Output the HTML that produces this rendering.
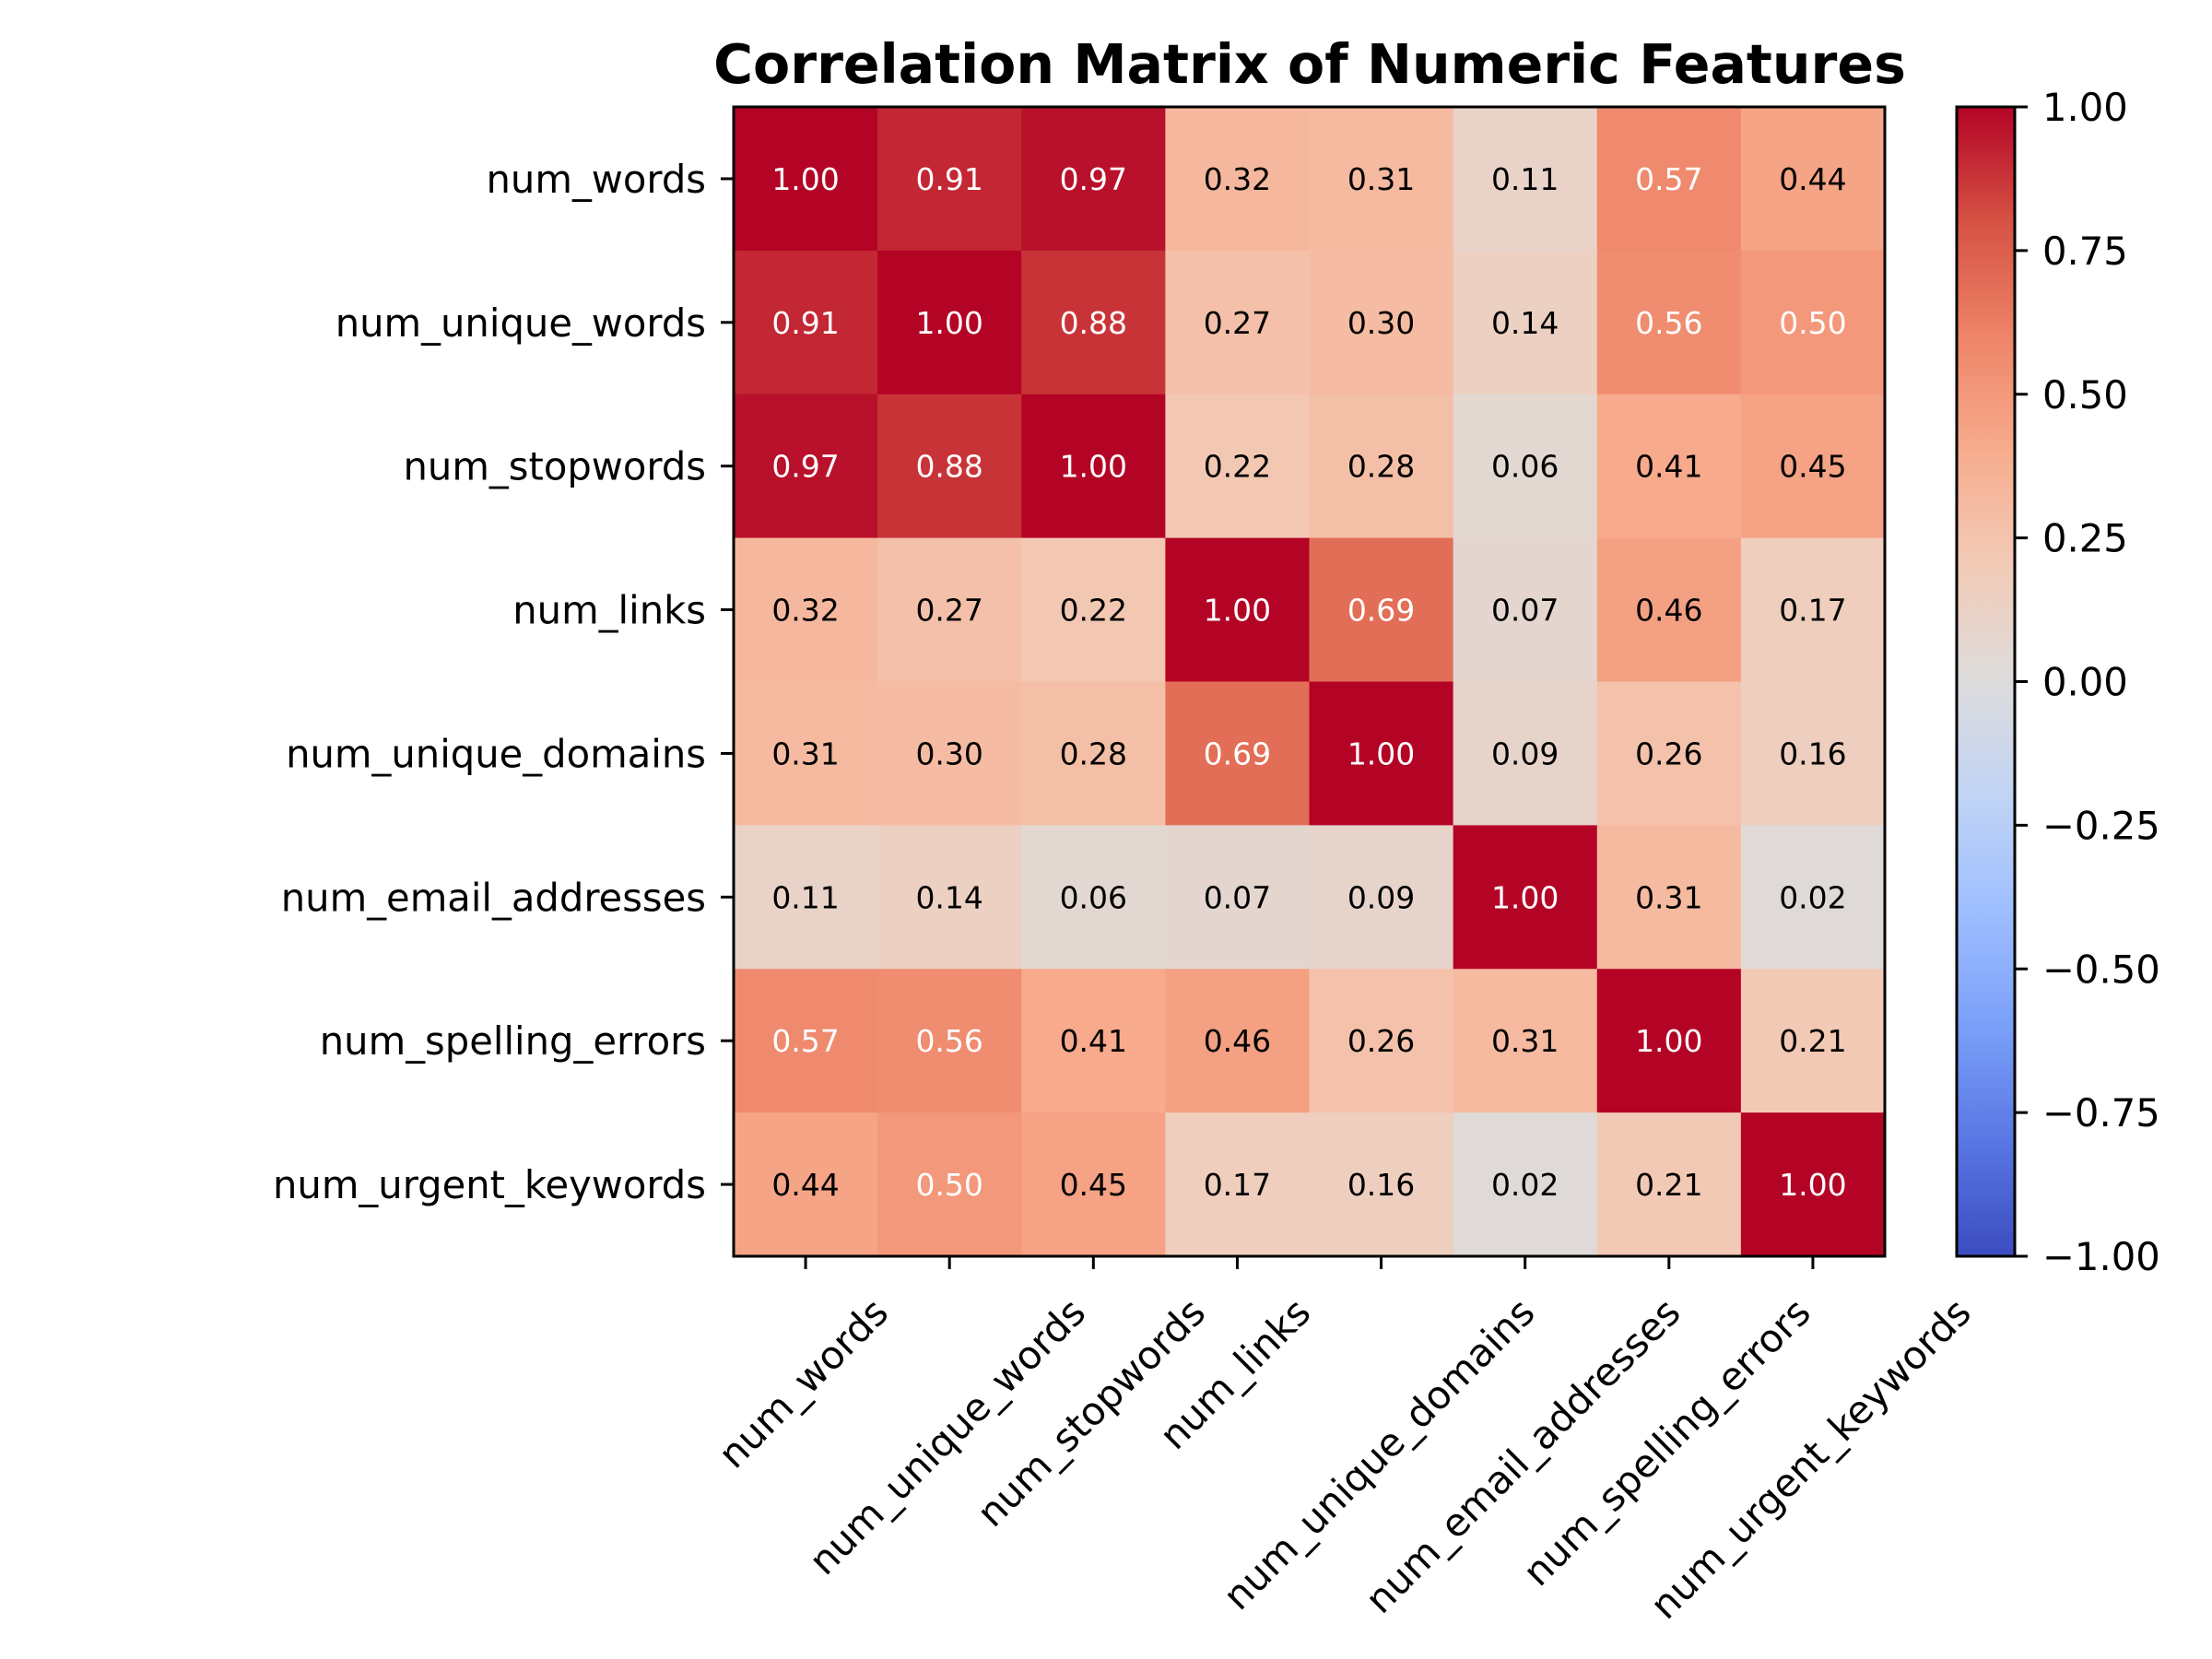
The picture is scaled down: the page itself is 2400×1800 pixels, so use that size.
<!DOCTYPE html>
<html><head><meta charset="utf-8"><style>
html,body{margin:0;padding:0;background:#fff;}
svg{display:block;font-family:"DejaVu Sans","Liberation Sans",sans-serif;}
</style></head><body>
<svg id="chart" width="2400" height="1800" viewBox="0 0 2400 1800" xmlns="http://www.w3.org/2000/svg">
<defs><linearGradient id="cbgrad" x1="0" y1="1" x2="0" y2="0"></linearGradient></defs>
<rect width="2400" height="1800" fill="#fff"/>
<text x="1421" y="90" text-anchor="middle" font-size="58.5" font-weight="bold">Correlation Matrix of Numeric Features</text>
<g id="cells"></g><g id="annots"></g><g id="xticks"></g><g id="yticks"></g><g id="cbar"></g>
</svg>
<script>
const features = ["num_words","num_unique_words","num_stopwords","num_links","num_unique_domains","num_email_addresses","num_spelling_errors","num_urgent_keywords"];
const row0 = [1.00,0.91,0.97,0.32,0.31,0.11,0.57,0.44];
const row1 = [0.91,1.00,0.88,0.27,0.30,0.14,0.56,0.50];
const row2 = [0.97,0.88,1.00,0.22,0.28,0.06,0.41,0.45];
const row3 = [0.32,0.27,0.22,1.00,0.69,0.07,0.46,0.17];
const row4 = [0.31,0.30,0.28,0.69,1.00,0.09,0.26,0.16];
const row5 = [0.11,0.14,0.06,0.07,0.09,1.00,0.31,0.02];
const row6 = [0.57,0.56,0.41,0.46,0.26,0.31,1.00,0.21];
const row7 = [0.44,0.50,0.45,0.17,0.16,0.02,0.21,1.00];
const matrix = [row0,row1,row2,row3,row4,row5,row6,row7];
const cbTicks = [-1.00,-0.75,-0.50,-0.25,0.00,0.25,0.50,0.75,1.00];

const NS="http://www.w3.org/2000/svg";
const L=796,T=116,R=2045,B=1363;
const n=features.length, cw=(R-L)/n, ch=(B-T)/n;
const xPos=i=>L+cw*i, yPos=i=>T+ch*i;
const cmapStops=[[59,76,192],[89,119,227],[123,159,249],[158,190,255],[192,212,245],[221,220,220],[242,203,183],[247,172,142],[238,132,104],[214,82,68],[180,4,38]];
function coolwarm(v){
  let t=(v+1)/2; t=Math.max(0,Math.min(1,t));
  const p=t*10, i=Math.min(9,Math.floor(p)), f=p-i;
  const a=cmapStops[i], b=cmapStops[i+1];
  return `rgb(${a.map((c,k)=>Math.round(c+(b[k]-c)*f)).join(',')})`;
}
function mk(tag,attrs,parent){const e=document.createElementNS(NS,tag);for(const k in attrs)e.setAttribute(k,attrs[k]);parent.appendChild(e);return e;}
const cells=document.getElementById('cells'),annots=document.getElementById('annots');
matrix.forEach((row,r)=>row.forEach((v,c)=>{
  const rc=mk('rect',{x:xPos(c),y:yPos(r),width:cw+0.6,height:ch+0.6,fill:coolwarm(v)},cells);
  
  
  const t=mk('text',{x:xPos(c)+cw/2,y:yPos(r)+ch/2+12,'text-anchor':'middle','font-size':33,fill:v>=0.5?'#fff':'#000'},annots);
  t.textContent=v.toFixed(2);
  
  
}));
const frame=mk('rect',{x:L,y:T,width:R-L,height:B-T,fill:'none',stroke:'#000','stroke-width':3},cells);


const yt=document.getElementById('yticks'),xt=document.getElementById('xticks');
const fs=41.7;
features.forEach((f,i)=>{
  const cy=yPos(i)+ch/2;
  const tk=mk('line',{x1:L,x2:L-14,y1:cy,y2:cy,stroke:'#000','stroke-width':3},yt);
  
  
  const t=mk('text',{x:766,y:cy+15,'text-anchor':'end','font-size':fs},yt);
  t.textContent=f;
  
  
  const cx=xPos(i)+cw/2;
  const tx=mk('line',{x1:cx,x2:cx,y1:B,y2:B+14,stroke:'#000','stroke-width':3},xt);
  
  
  const lt=mk('text',{'text-anchor':'middle','font-size':fs},xt);
  lt.textContent=f;
  
  
  const len=lt.getComputedTextLength(), h=fs*0.95;
  const ccy=1405+(len+h)*0.3536;
  lt.setAttribute('x',cx);lt.setAttribute('y',ccy+fs*0.26);
  lt.setAttribute('transform',`rotate(-45 ${cx} ${ccy})`);
});
const grad=document.getElementById('cbgrad');
for(let k=0;k<=20;k++){const v=-1+k*0.1;mk('stop',{offset:(k/20),'stop-color':coolwarm(v)},grad);}
const cb=document.getElementById('cbar');
const CL=2123,CR=2186;
const cbY=v=>B-(v+1)/2*(B-T);
const bar=mk('rect',{x:CL,y:T,width:CR-CL,height:B-T,fill:'url(#cbgrad)',stroke:'#000','stroke-width':3},cb);


cbTicks.forEach(v=>{
  const y=cbY(v);
  const l=mk('line',{x1:CR,x2:CR+14,y1:y,y2:y,stroke:'#000','stroke-width':3},cb);
  
  
  const t=mk('text',{x:2216,y:y+15,'font-size':fs},cb);
  t.textContent=(v<0?'\u2212':'')+Math.abs(v).toFixed(2);
  
  
});
</script>
</body></html>
